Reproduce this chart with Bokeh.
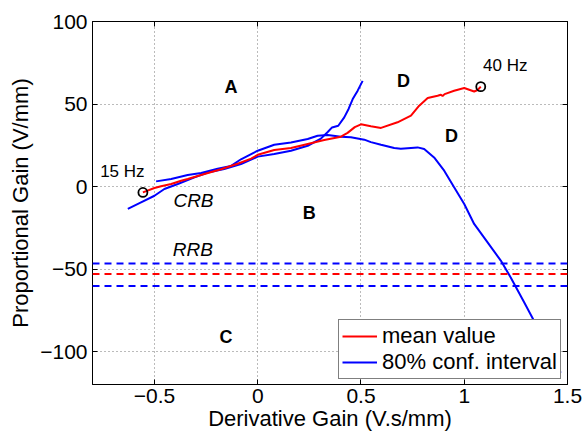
from bokeh.plotting import figure
from bokeh.models import (Range1d, FixedTicker, LinearAxis, Span, Legend, LegendItem,
                          CustomJSTickFormatter)
from bokeh.core.properties import value
from bokeh.embed import file_html
from bokeh.resources import INLINE

# ---------------- data ----------------
red_x = [-0.556, -0.5, -0.468, -0.419, -0.371, -0.339, -0.258, -0.178, -0.097, -0.032, 0.0,
         0.08, 0.161, 0.242, 0.322, 0.403, 0.435, 0.47, 0.5, 0.548, 0.597, 0.677, 0.742,
         0.782, 0.823, 0.871, 0.887, 0.895, 0.905, 0.951, 1.0, 1.048, 1.065, 1.08]
red_y = [-3.6, -0.9, 0.2, 1.5, 3.5, 4.5, 7.6, 10.5, 13.8, 16.9, 19.2,
         22.1, 23.3, 25.8, 28.2, 30.2, 32.5, 36.0, 37.7, 36.5, 35.5, 38.9, 42.9,
         49.0, 53.6, 55.0, 55.6, 54.8, 56.0, 58.0, 59.7, 57.6, 58.5, 60.5]

blue_up_x = [-0.492, -0.419, -0.339, -0.274, -0.194, -0.129, -0.081, 0.0, 0.08, 0.161,
             0.242, 0.29, 0.339, 0.403, 0.451, 0.516, 0.548, 0.597, 0.661, 0.693, 0.742,
             0.774, 0.806, 0.854, 0.903, 0.951, 1.0, 1.048, 1.113, 1.177, 1.225, 1.29,
             1.346, 1.41, 1.467]
blue_up_y = [3.1, 4.5, 7.0, 8.2, 10.8, 12.5, 16.5, 21.7, 25.3, 26.7,
             28.8, 30.8, 31.2, 30.2, 29.8, 28.4, 26.9, 25.3, 23.3, 22.9, 23.4,
             23.7, 22.7, 17.6, 9.6, -0.5, -10.6, -22.7, -33.9, -44.9, -55.1, -70.2,
             -83.3, -99.5, -112.8]

blue_lo_x = [-0.629, -0.565, -0.5, -0.452, -0.387, -0.306, -0.242, -0.162, -0.081, 0.0,
             0.08, 0.161, 0.242, 0.306, 0.339, 0.36, 0.39, 0.419, 0.44, 0.46, 0.484, 0.508]
blue_lo_y = [-13.6, -9.6, -5.6, -1.5, 1.5, 5.5, 8.5, 10.6, 13.6, 18.1,
             19.7, 21.7, 24.7, 29.0, 33.0, 35.8, 36.8, 41.9, 47.0, 53.0, 58.1, 64.0]

freq_marks_x = [-0.556, 1.08]
freq_marks_y = [-3.6, 60.5]
freq_labels = ["15 Hz", "40 Hz"]

rrb_mean = -53.0
rrb_low = -60.3
rrb_high = -46.6

region_labels = ["A", "B", "C", "D", "D"]
mode_labels = ["CRB", "RRB"]

x_ticks = [-0.5, 0, 0.5, 1, 1.5]
y_ticks = [-100, -50, 0, 50, 100]
x_label = "Derivative Gain (V.s/mm)"
y_label = "Proportional Gain (V/mm)"

X0, X1 = -0.8, 1.5
Y0, Y1 = -120, 100

# ---------------- figure ----------------
FONT = "Liberation Sans"
p = figure(width=584, height=434, output_backend="svg", toolbar_location=None,
           x_range=Range1d(X0, X1), y_range=Range1d(Y0, Y1),
           min_border_left=92, min_border_right=17, min_border_top=21,
           min_border_bottom=50, background_fill_color="white",
           border_fill_color="white")
p.outline_line_color = "black"
p.outline_line_width = 1

fmt = CustomJSTickFormatter(code="return tick.toString().replace('-', '\u2212');")
blank = CustomJSTickFormatter(code="return '';")

for ax, ticks in ((p.xaxis[0], x_ticks), (p.yaxis[0], y_ticks)):
    ax.ticker = FixedTicker(ticks=ticks)
    ax.formatter = fmt
    ax.major_tick_in = 5
    ax.major_tick_out = 0
    ax.minor_tick_line_color = None
    ax.axis_line_color = "black"
    ax.major_tick_line_color = "black"
    ax.major_label_text_font = FONT
    ax.major_label_text_font_size = "21px"
    ax.major_label_text_color = "black"
    ax.axis_label_text_font = FONT
    ax.axis_label_text_font_style = "normal"
    ax.axis_label_text_color = "black"
    ax.axis_label_text_font_size = "22px"

p.xaxis[0].axis_label = x_label
p.xaxis[0].major_label_standoff = 4
p.xaxis[0].axis_label_standoff = 0
p.yaxis[0].axis_label = y_label
p.yaxis[0].major_label_standoff = 5
p.yaxis[0].axis_label_standoff = 4

# mirrored ticks on top and right
for loc, ticks in (("above", x_ticks), ("right", y_ticks)):
    a = LinearAxis(ticker=FixedTicker(ticks=ticks), formatter=blank, major_tick_in=5,
                   major_tick_out=0, minor_tick_line_color=None,
                   major_label_standoff=0, axis_line_color="black")
    p.add_layout(a, loc)

for g, ticks in ((p.xgrid[0], x_ticks), (p.ygrid[0], y_ticks)):
    g.ticker = FixedTicker(ticks=ticks)
    g.grid_line_color = "#777777"
    g.grid_line_dash = "1 3"
    g.grid_line_width = 1

# RRB dashed levels
for lvl, col in ((rrb_high, "blue"), (rrb_mean, "red"), (rrb_low, "blue")):
    p.add_layout(Span(location=lvl, dimension="width", line_color=col,
                      line_width=2, line_dash="7 5"))

r_blue_up = p.line(blue_up_x, blue_up_y, line_color="#0000ff", line_width=2)
r_blue_lo = p.line(blue_lo_x, blue_lo_y, line_color="#0000ff", line_width=2)
r_red = p.line(red_x, red_y, line_color="#ff0000", line_width=2)

p.scatter(freq_marks_x, freq_marks_y, marker="circle", size=9, fill_color=None,
          line_color="black", line_width=1.8)

# annotations
p.text(x=[-0.763, 1.091], y=[9.0, 73.5], text=freq_labels,
       text_font=value(FONT), text_font_size="17px", text_color="black",
       text_align="left", text_baseline="middle")
p.text(x=[-0.129, 0.249, -0.153, 0.706, 0.938], y=[60.1, -16.3, -91.5, 64.1, 30.4],
       text=region_labels, text_font=value(FONT), text_font_size="18px",
       text_font_style="bold", text_color="black", text_align="center",
       text_baseline="middle")
p.text(x=[-0.311, -0.314], y=[-8.4, -38.3], text=mode_labels,
       text_font=value(FONT), text_font_size="19px", text_font_style="italic",
       text_color="black", text_align="center", text_baseline="middle")

legend = Legend(items=[LegendItem(label="mean value", renderers=[r_red]),
                       LegendItem(label="80% conf. interval", renderers=[r_blue_up])],
                location=(246, 5), label_text_font=FONT, label_text_font_size="22px",
                label_text_color="black", glyph_width=35, glyph_height=20,
                label_height=20, label_standoff=5, padding=3, spacing=0, margin=0,
                border_line_color="black", border_line_width=1.2,
                background_fill_color="white", background_fill_alpha=1.0)
p.add_layout(legend, "center")

open("out.html", "w").write(file_html(p, INLINE))
